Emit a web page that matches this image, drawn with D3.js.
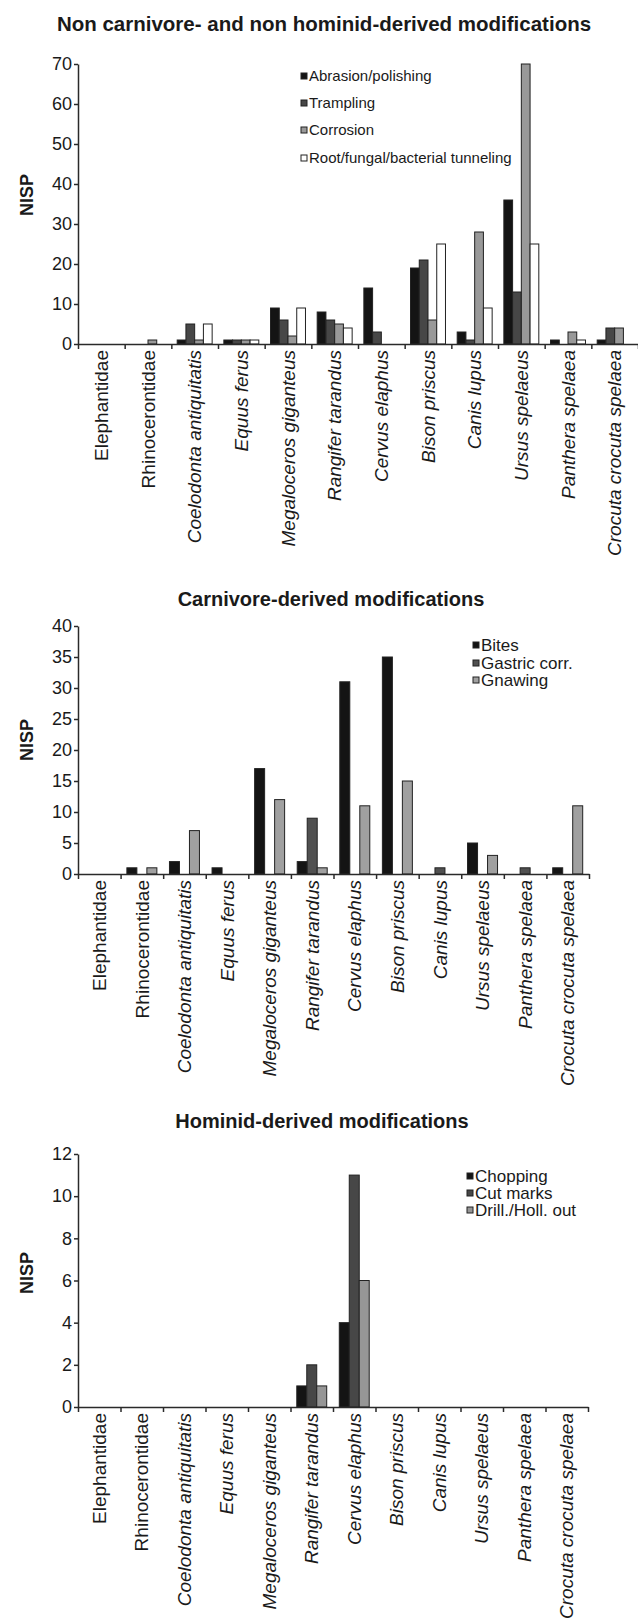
<!DOCTYPE html>
<html>
<head>
<meta charset="utf-8">
<script src="https://cdn.jsdelivr.net/npm/d3@7"></script>
<style>
  body { margin: 0; background: #fff; }
  text { font-family: "Liberation Sans", Arial, sans-serif; fill: #1a1a1a; }
  .title { font-weight: bold; }
  .nisp { font-weight: bold; font-size: 18px; }
  .cat-label { font-size: 19px; }
  .axis path, .axis line { stroke: #2a2a2a; stroke-width: 1.5; }
</style>
</head>
<body>
<div id="chart"></div>
<script>
// categories shared by the three panels
const categories = ['Elephantidae', 'Rhinocerontidae', 'Coelodonta antiquitatis', 'Equus ferus',
  'Megaloceros giganteus', 'Rangifer tarandus', 'Cervus elaphus', 'Bison priscus',
  'Canis lupus', 'Ursus spelaeus', 'Panthera spelaea', 'Crocuta crocuta spelaea'];
// family names are not set in italics
const familyNames = ['Elephantidae', 'Rhinocerontidae'];

// panel 1: non carnivore- and non hominid-derived
const nonCarnSeries = ['Abrasion/polishing', 'Trampling', 'Corrosion', 'Root/fungal/bacterial tunneling'];
const abrasion      = [0, 0, 1, 1, 9, 8, 14, 19, 3, 36, 1, 1];
const trampling     = [0, 0, 5, 1, 6, 6, 3, 21, 1, 13, 0, 4];
const corrosion     = [0, 1, 1, 1, 2, 5, 0, 6, 28, 70, 3, 4];
const rootTunneling = [0, 0, 5, 1, 9, 4, 0, 25, 9, 25, 1, 0];
const yTicks1 = [0, 10, 20, 30, 40, 50, 60, 70];

// panel 2: carnivore-derived
const carnSeries  = ['Bites', 'Gastric corr.', 'Gnawing'];
const bites       = [0, 1, 2, 1, 17, 2, 31, 35, 0, 5, 0, 1];
const gastricCorr = [0, 0, 0, 0, 0, 9, 0, 0, 1, 0, 1, 0];
const gnawing     = [0, 1, 7, 0, 12, 1, 11, 15, 0, 3, 0, 11];
const yTicks2 = [0, 5, 10, 15, 20, 25, 30, 35, 40];

// panel 3: hominid-derived
const homSeries = ['Chopping', 'Cut marks', 'Drill./Holl. out'];
const chopping  = [0, 0, 0, 0, 0, 1, 4, 0, 0, 0, 0, 0];
const cutMarks  = [0, 0, 0, 0, 0, 2, 11, 0, 0, 0, 0, 0];
const drillHoll = [0, 0, 0, 0, 0, 1, 6, 0, 0, 0, 0, 0];
const yTicks3 = [0, 2, 4, 6, 8, 10, 12];

const svg = d3.select('#chart').append('svg')
    .attr('width', 638)
    .attr('height', 1620);

function drawPanel(cfg) {
  const g = svg.append('g');

  const xScale = d3.scaleBand()
      .domain(categories)
      .range(cfg.xRange)
      .paddingInner(0)
      .paddingOuter(0);

  const subScale = d3.scaleBand()
      .domain(cfg.series)
      .range([0, xScale.bandwidth()])
      .paddingInner(0)
      .paddingOuter(cfg.groupPad);

  const yScale = d3.scaleLinear()
      .domain([0, d3.max(cfg.ticks)])
      .range(cfg.yRange);

  // title
  g.append('text')
      .attr('class', 'title')
      .attr('x', cfg.titleX)
      .attr('y', cfg.titleY)
      .attr('text-anchor', 'middle')
      .style('font-size', cfg.titleFont + 'px')
      .text(cfg.title);

  // y axis label
  g.append('text')
      .attr('class', 'nisp')
      .attr('transform', `translate(33, ${cfg.nispY}) rotate(-90)`)
      .attr('text-anchor', 'middle')
      .text('NISP');

  // bars
  const rows = categories.map((c, i) => {
    const obj = {cat: c};
    cfg.series.forEach((s, k) => obj[s] = cfg.values[k][i]);
    return obj;
  });

  g.selectAll('.group')
      .data(rows)
      .join('g')
      .attr('class', 'group')
      .attr('transform', d => `translate(${xScale(d.cat)},0)`)
      .selectAll('rect')
      .data(d => cfg.series.map(s => ({key: s, value: d[s]})))
      .join('rect')
      .attr('x', d => subScale(d.key))
      .attr('y', d => yScale(d.value))
      .attr('width', subScale.bandwidth())
      .attr('height', d => yScale(0) - yScale(d.value))
      .attr('fill', (d, i) => cfg.colors[i])
      .attr('stroke', '#222')
      .attr('stroke-width', 1);

  // y axis
  const yAxis = d3.axisLeft(yScale)
      .tickValues(cfg.ticks)
      .tickSize(4)
      .tickPadding(2)
      .tickSizeOuter(0);
  const yAxisG = g.append('g')
      .attr('class', 'axis')
      .attr('transform', `translate(${cfg.xRange[0]},0)`)
      .call(yAxis);
  yAxisG.selectAll('text')
      .style('font-size', '18px')
      .style('font-family', '"Liberation Sans", Arial, sans-serif')
      .style('fill', '#1a1a1a');

  // x axis, ticks on the category boundaries
  const boundScale = d3.scaleLinear()
      .domain([0, categories.length])
      .range(cfg.xRange);
  g.append('g')
      .attr('class', 'axis')
      .attr('transform', `translate(0,${yScale(0)})`)
      .call(d3.axisBottom(boundScale)
          .tickValues(d3.range(0, categories.length + 1))
          .tickSize(5)
          .tickSizeOuter(0)
          .tickFormat(''));

  // category labels
  g.selectAll('.cat-label')
      .data(categories)
      .join('text')
      .attr('class', 'cat-label')
      .attr('transform', d => `translate(${xScale(d) + xScale.bandwidth() / 2}, ${yScale(0) + 6}) rotate(-90)`)
      .attr('dy', '0.35em')
      .attr('text-anchor', 'end')
      .style('font-style', d => familyNames.includes(d) ? 'normal' : 'italic')
      .text(d => d);

  // legend
  const legend = g.append('g')
      .attr('transform', `translate(${cfg.legendX},0)`);
  legend.selectAll('rect')
      .data(cfg.series)
      .join('rect')
      .attr('x', -3)
      .attr('y', (d, i) => cfg.legendY[i] - 3)
      .attr('width', 6)
      .attr('height', 6)
      .attr('fill', (d, i) => cfg.colors[i])
      .attr('stroke', '#222')
      .attr('stroke-width', 1);
  legend.selectAll('text')
      .data(cfg.series)
      .join('text')
      .attr('x', 5)
      .attr('y', (d, i) => cfg.legendY[i])
      .attr('dy', '0.35em')
      .style('font-size', cfg.legendFont + 'px')
      .text(d => d);
}

drawPanel({
  title: 'Non carnivore- and non hominid-derived modifications',
  titleX: 324, titleY: 31, titleFont: 20.5,
  series: nonCarnSeries,
  values: [abrasion, trampling, corrosion, rootTunneling],
  colors: ['#141414', '#474747', '#999999', '#ffffff'],
  ticks: yTicks1,
  xRange: [78, 638], yRange: [344, 64],
  groupPad: 0.67,
  nispY: 195,
  legendX: 304, legendY: [76, 103, 130, 158], legendFont: 15
});

drawPanel({
  title: 'Carnivore-derived modifications',
  titleX: 331, titleY: 606, titleFont: 20,
  series: carnSeries,
  values: [bites, gastricCorr, gnawing],
  colors: ['#141414', '#505050', '#a0a0a0'],
  ticks: yTicks2,
  xRange: [78, 589], yRange: [874, 626],
  groupPad: 0.63,
  nispY: 740,
  legendX: 476, legendY: [645, 663, 680], legendFont: 17
});

drawPanel({
  title: 'Hominid-derived modifications',
  titleX: 322, titleY: 1128, titleFont: 20,
  series: homSeries,
  values: [chopping, cutMarks, drillHoll],
  colors: ['#141414', '#474747', '#969696'],
  ticks: yTicks3,
  xRange: [78, 588], yRange: [1407, 1154],
  groupPad: 0.63,
  nispY: 1273,
  legendX: 470, legendY: [1176, 1193, 1210], legendFont: 17
});
</script>
</body>
</html>
